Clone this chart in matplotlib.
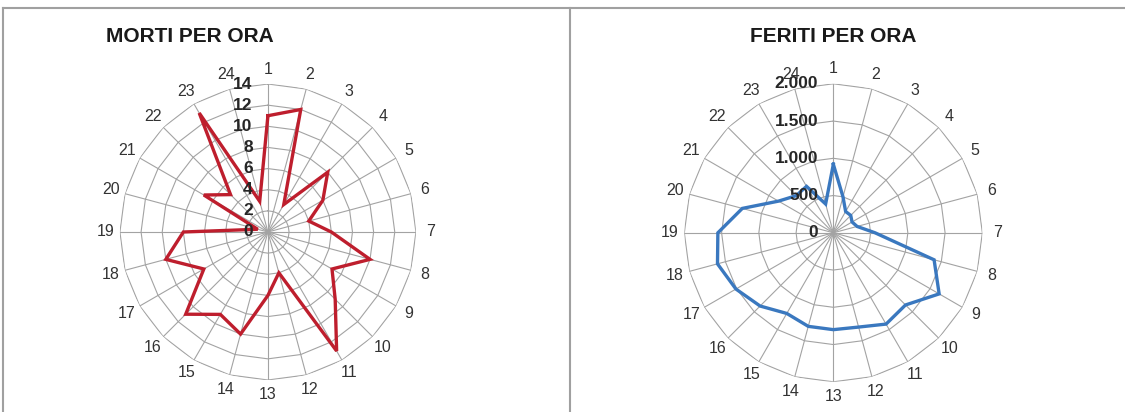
import matplotlib.pyplot as plt
import numpy as np
from matplotlib.lines import Line2D

ore = [str(i) for i in range(1, 25)]
morti = [11, 12, 3, 8, 6, 4, 6, 10, 7, 9, 13, 4, 6, 10, 9, 11, 7, 10, 8, 1, 7, 5, 13, 3]
feriti = [920, 500, 330, 330, 290, 330, 560, 1400, 1640, 1370, 1415, 1310,
          1300, 1300, 1250, 1390, 1510, 1610, 1550, 1265, 850, 705, 720, 400]

morti_ticks = [0, 2, 4, 6, 8, 10, 12, 14]
morti_tick_labels = ['0', '2', '4', '6', '8', '10', '12', '14']
feriti_ticks = [0, 500, 1000, 1500, 2000]
feriti_tick_labels = ['0', '500', '1.000', '1.500', '2.000']

grid_col = '#a3a3a3'
fam = ['Liberation Sans', 'DejaVu Sans']

fig = plt.figure(figsize=(11.25, 4.12), dpi=100)


def radar(rect, values, ticks, tick_labels, color, title, title_x):
    ax = fig.add_axes(rect, projection='polar')
    ax.set_theta_zero_location('N')
    ax.set_theta_direction(-1)
    rmax = ticks[-1]
    ax.set_ylim(0, rmax)
    ax.grid(False)
    ax.spines['polar'].set_visible(False)
    ax.set_xticks([])
    ax.set_yticks([])

    n = len(values)
    theta = np.arange(n) * 2 * np.pi / n
    tc = np.append(theta, theta[0])

    # polygon rings
    for r in ticks[1:]:
        ax.plot(tc, [r] * (n + 1), color=grid_col, lw=0.8, zorder=1)
    # spokes
    for t in theta:
        ax.plot([t, t], [0, rmax], color=grid_col, lw=0.8, zorder=1)

    vals = np.append(values, values[0])
    ax.plot(tc, vals, color=color, lw=2.4, zorder=3, solid_joinstyle='miter')

    for t, lab in zip(theta, ore):
        ax.text(t, rmax * 1.1, lab, ha='center', va='center', fontsize=11.5,
                color='#333333', family=fam)

    for r, lab in zip(ticks, tick_labels):
        ax.annotate(lab, xy=(0, r), xycoords='data', xytext=(-11, 0),
                    textcoords='offset points', ha='right', va='center',
                    fontsize=12.5, fontweight='bold', color='#262626',
                    family=fam, zorder=4)

    fig.text(title_x, 1 - 37 / 412, title, ha='center', va='center',
             fontsize=15, fontweight='bold', color='#1a1a1a', family=fam)
    return ax


radar([0.1066, 0.0777, 0.2631, 0.7184], morti, morti_ticks, morti_tick_labels,
      '#be1e2d', 'MORTI PER ORA', 190 / 1125)
radar([0.6083, 0.0733, 0.2649, 0.7233], feriti, feriti_ticks, feriti_tick_labels,
      '#3a78bf', 'FERITI PER ORA', 833 / 1125)

# panel borders
fc = '#a0a0a0'
fig.add_artist(Line2D([3 / 1125, 1], [1 - 8 / 412] * 2, color=fc, lw=1.5))
fig.add_artist(Line2D([3 / 1125] * 2, [0, 1 - 8 / 412], color=fc, lw=1.5))
fig.add_artist(Line2D([570 / 1125] * 2, [0, 1 - 8 / 412], color=fc, lw=1.5))

fig.savefig('out.png', dpi=100)
